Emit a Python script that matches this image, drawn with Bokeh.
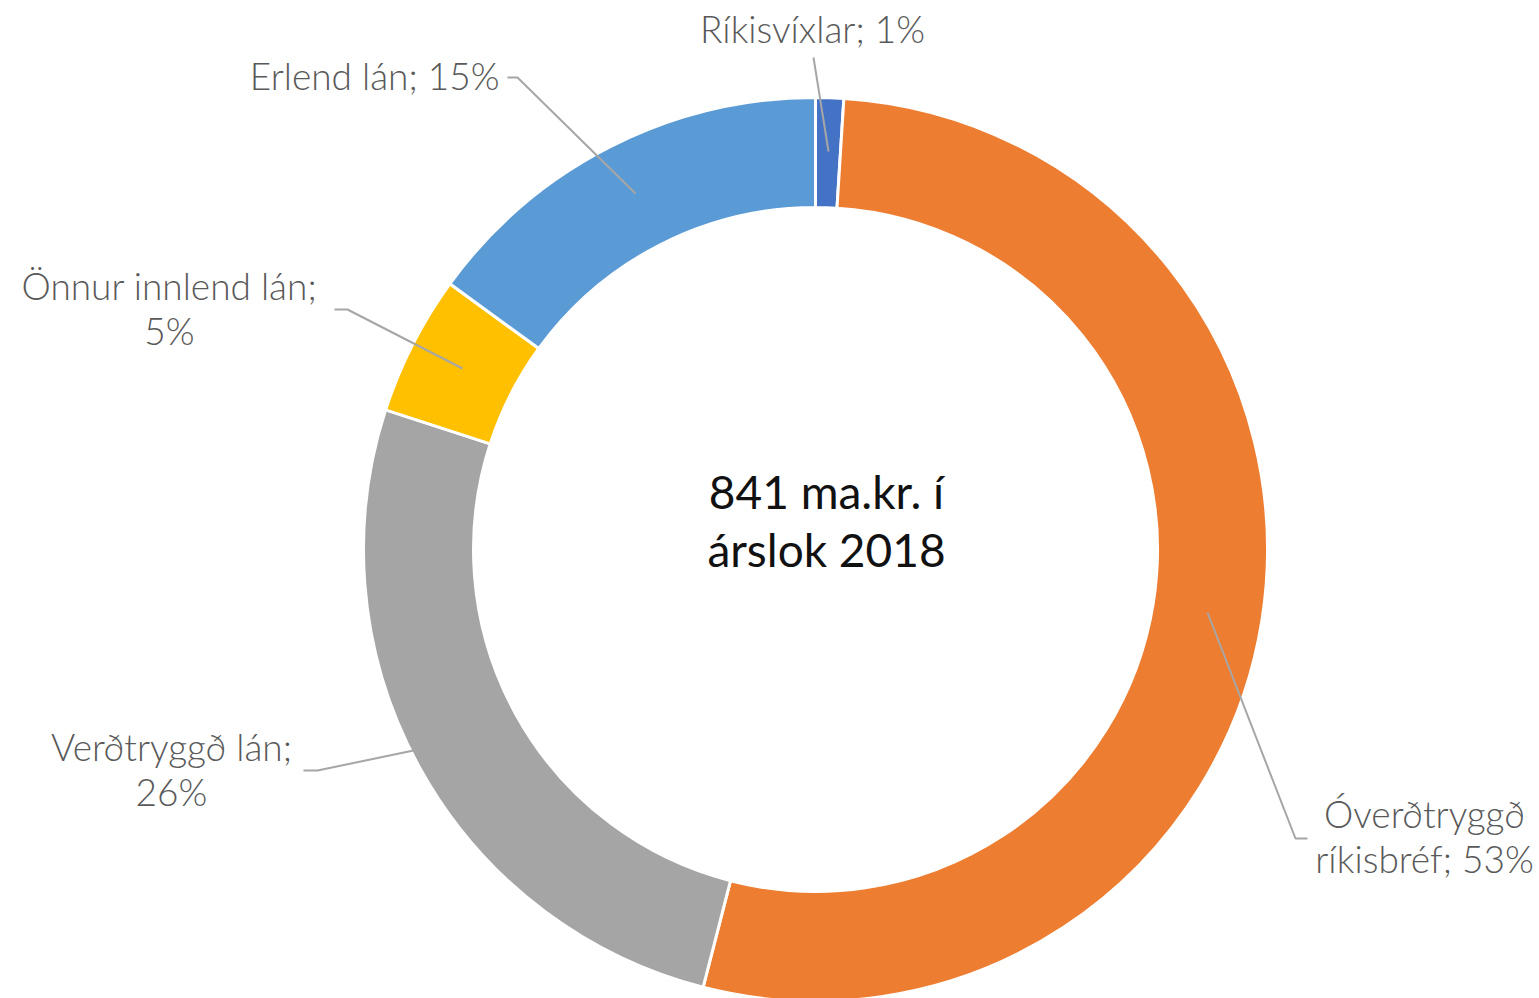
import math
from bokeh.plotting import figure
from bokeh.models import Range1d, ColumnDataSource
from bokeh.core.properties import value
from bokeh.embed import file_html
from bokeh.resources import INLINE

# ---- data ----
categories = ["Ríkisvíxlar", "Óverðtryggð ríkisbréf", "Verðtryggð lán",
              "Önnur innlend lán", "Erlend lán"]
shares = [1, 53, 26, 5, 15]
colors = ["#4472C4", "#ED7D31", "#A5A5A5", "#FFC000", "#5B9BD5"]
label_texts = ["Ríkisvíxlar; 1%", "Óverðtryggð\nríkisbréf; 53%", "Verðtryggð lán;\n26%",
               "Önnur innlend lán;\n5%", "Erlend lán; 15%"]
center_text = "841 ma.kr. í\nárslok 2018"

# ---- layout (screen pixel coordinates) ----
W, H = 1539, 998
CX, CY = 815, 549
R_IN, R_OUT = 342, 452
FONT = "Lato Light"
LABEL_COLOR = "#595959"

label_pos = [(812, 28, "center"), (1424, 835, "center"), (171, 768, "center"),
             (169, 307, "center"), (499, 75, "right")]
leaders = [
    [(813, 57), (828, 151)],
    [(1307, 838), (1295, 838), (1207, 612)],
    [(303, 770), (317, 770), (413, 750)],
    [(334, 309), (347, 309), (462, 368)],
    [(507, 77), (517, 77), (635, 193)],
]

p = figure(width=W, height=H, output_backend="svg", toolbar_location=None,
           x_range=Range1d(0, W), y_range=Range1d(-H, 0),
           x_axis_type=None, y_axis_type=None, min_border=0,
           background_fill_color="white", border_fill_color="white")
p.grid.visible = False
p.outline_line_color = None

total = float(sum(shares))
starts, ends = [], []
cum = 0.0
for s in shares:
    starts.append(math.pi / 2 - 2 * math.pi * cum / total)
    cum += s
    ends.append(math.pi / 2 - 2 * math.pi * cum / total)

src = ColumnDataSource(dict(cat=categories, share=shares, color=colors,
                            start=starts, end=ends))
p.annular_wedge(x=CX, y=-CY, inner_radius=R_IN, outer_radius=R_OUT,
                start_angle="start", end_angle="end", direction="clock",
                fill_color="color", line_color="white", line_width=3, source=src)

for pts in leaders:
    p.line([q[0] for q in pts], [-q[1] for q in pts], line_color="#A6A6A6", line_width=2)

for txt, (lx, ly, al) in zip(label_texts, label_pos):
    p.text(x=[lx], y=[-ly], text=[txt], text_font=value(FONT), text_font_size="37px",
           text_color=LABEL_COLOR, text_align=al, text_baseline="middle",
           text_line_height=1.0)

p.text(x=[826], y=[-520], text=[center_text], text_font=value("Lato"), text_font_size="46px",
       text_color="#111111", text_align="center", text_baseline="middle",
       text_line_height=1.05)

open("out.html", "w").write(file_html(p, INLINE))
